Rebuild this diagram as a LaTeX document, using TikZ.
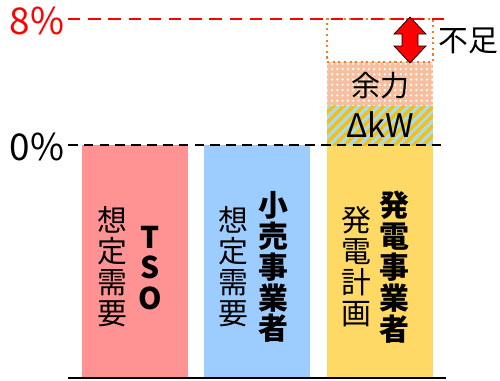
\documentclass[tikz,border=0pt]{standalone}
\usepackage{fontspec}
\setmainfont{Noto Sans CJK JP}
\usetikzlibrary{patterns.meta}
\definecolor{tsored}{HTML}{FF9393}
\definecolor{retailblue}{HTML}{9DCCFF}
\definecolor{genyellow}{HTML}{FFD966}
\definecolor{sparesalmon}{HTML}{F6C0A0}
\definecolor{dkwcyan}{HTML}{A9DCEB}
\definecolor{dkwgold}{HTML}{F5BE10}
\definecolor{lackorange}{HTML}{ED7D31}
\begin{document}
\begin{tikzpicture}[x=0.02cm,y=-0.02cm,
	  bar/.style={rectangle,minimum width=2.12cm,minimum height=4.66cm,inner sep=0pt},
	  stack/.style={rectangle,minimum width=2.12cm,minimum height=0.86cm,inner sep=0pt},
	  vtext/.style={align=center,inner sep=0pt,font=\fontsize{17}{17.6}\selectfont},
	  btext/.style={align=center,inner sep=0pt,font=\fontsize{17}{17.6}\selectfont\bfseries},
	  level/.style={font=\fontsize{21}{24}\selectfont}]
	  \useasboundingbox (0,0) rectangle (500,380);

	  % bars
	  \node[bar,fill=tsored] (tso) at (135,261.5) {};
	  \node[bar,fill=retailblue] (retail) at (257,261.5) {};
	  \node[bar,fill=genyellow] (gen) at (380,261.5) {};

	  % stacked parts on the generator bar
	  \node[stack,minimum height=0.8cm,preaction={fill=dkwcyan},
	    pattern={Lines[angle=45,distance=4pt,line width=2pt]},pattern color=dkwgold] (dkw) at (380,125) {};
	  \node[font=\fontsize{18.5}{20}\selectfont] at (dkw) {ΔkW};
	  \node[stack,preaction={fill=sparesalmon},
	    pattern={Dots[radius=0.7pt,distance=3pt]},pattern color=white] (spare) at (380,83.5) {};
	  \node[font=\fontsize{16.5}{18}\selectfont] at ([yshift=-0.05cm]spare.center) {余力};
	  \node[stack,draw=lackorange,dotted,line width=1.2pt] (lack) at (380,40.5) {};

	  % levels
	  \coordinate (l8) at (68,19);
	  \coordinate (r8) at (446,19);
	  \coordinate (l0) at (68,145);
	  \coordinate (r0) at (446,145);
	  \coordinate (lb) at (68,378);
	  \coordinate (rb) at (446,378);
	  \draw[red,line width=1.1pt,dash pattern=on 7pt off 4.5pt] (l8) -- (r8);
	  \draw[black,line width=0.9pt,dash pattern=on 5.5pt off 3.5pt] (l0) -- (r0);
	  \draw[black,line width=0.6pt] (lb) -- (rb);
	  \node[level,red] (p8) at (37,21) {8\%};
	  \node[level] (p0) at (37,147) {0\%};

	  % shortfall arrow
	  \draw[fill=red,draw=black,line width=0.4pt]
	    (410,17) -- (426,34) -- (418,34) -- (418,46) -- (426,46) -- (410,63)
	    -- (394,46) -- (402,46) -- (402,34) -- (394,34) -- cycle;
	  \node[font=\fontsize{17}{20}\selectfont] (short) at (468,41) {不足};

	  % labels in the bars
	  \node[vtext] at (112,267) {想\\定\\需\\要};
	  \node[btext] at (150,268) {T\\S\\O};
	  \node[vtext] at (233,267) {想\\定\\需\\要};
	  \node[btext] at (273,267) {小\\売\\事\\業\\者};
	  \node[vtext] at (356,267) {発\\電\\計\\画};
	  \node[btext] at (394,267) {発\\電\\事\\業\\者};

	\end{tikzpicture}
\end{document}
